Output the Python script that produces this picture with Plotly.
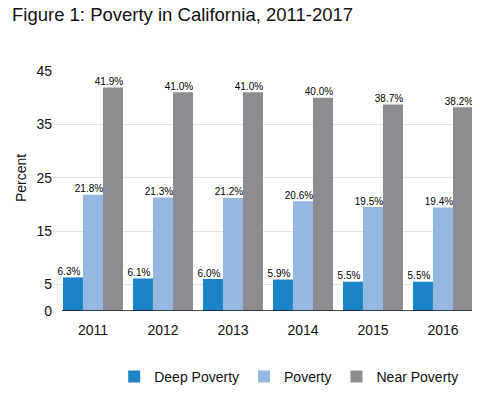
import plotly.graph_objects as go

years = ["2011", "2012", "2013", "2014", "2015", "2016", "2017"]
deep_poverty = [6.3, 6.1, 6.0, 5.9, 5.5, 5.5, 4.8]
poverty = [21.8, 21.3, 21.2, 20.6, 19.5, 19.4, 18.2]
near_poverty = [41.9, 41.0, 41.0, 40.0, 38.7, 38.2, 36.7]
series_names = ["Deep Poverty", "Poverty", "Near Poverty"]
y_ticks = [0, 5, 15, 25, 35, 45]

colors = ["#1b84c6", "#94b8e2", "#8d8d91"]
series = [deep_poverty, poverty, near_poverty]
xpos = list(range(len(years)))

bargap = 0.143
bw = (1 - bargap) / 3
label_shift = -4 / 70.0
x_range = [-0.571, 5.529]

fig = go.Figure()
for name, vals, col in zip(series_names, series, colors):
    fig.add_trace(go.Bar(
        x=xpos, y=vals, name=name, marker=dict(color=col, line=dict(width=0)),
        hoverinfo="skip",
    ))

for k, vals in enumerate(series):
    fig.add_trace(go.Scatter(
        x=[x + (k - 1) * bw + label_shift for x in xpos],
        y=vals,
        mode="text",
        text=[f"{v:.1f}%" for v in vals],
        textposition="top center",
        textfont=dict(family="Liberation Sans, Arial", size=10, color="#000000"),
        showlegend=False,
        cliponaxis=False,
        hoverinfo="skip",
    ))

# baseline axis line starting just before the first bar group
fig.add_shape(type="line", xref="x", yref="y",
              x0=xpos[0] - 1.5 * bw - 1 / 70.0, x1=x_range[1], y0=0, y1=0,
              line=dict(color="#111111", width=1.5), layer="above")

fig.add_annotation(
    text="Percent", textangle=-90, xref="paper", yref="paper",
    x=-0.075, y=0.554, xanchor="center", yanchor="middle", showarrow=False,
    font=dict(size=14, color="#111111"),
)

fig.update_layout(
    width=472, height=390,
    margin=dict(l=45, r=0, t=63, b=87, autoexpand=False),
    paper_bgcolor="white", plot_bgcolor="white",
    barmode="group", bargap=bargap, bargroupgap=0,
    font=dict(family="Liberation Sans, Arial", color="#111111"),
    title=dict(text="Figure 1: Poverty in California, 2011-2017",
               x=4 / 472, xanchor="left", y=1 - 7 / 390, yanchor="middle",
               font=dict(size=18.5, color="#111111")),
    xaxis=dict(range=x_range, tickmode="array", tickvals=xpos, ticktext=years,
               showgrid=False, zeroline=False, showline=False,
               tickfont=dict(size=14), ticks="", ticklen=0, ticklabelstandoff=9,
               automargin=False),
    yaxis=dict(range=[0, 45], tickmode="array", tickvals=y_ticks,
               showgrid=True, gridcolor="#e2e2e2", gridwidth=1, zeroline=False,
               tickfont=dict(size=14), ticks="", ticklen=0, automargin=False),
    legend=dict(orientation="h", x=0.552, xanchor="center", y=-0.275, yanchor="middle",
                font=dict(size=14), itemwidth=30, tracegroupgap=0, traceorder="normal"),
)

fig.write_html("out.html")
